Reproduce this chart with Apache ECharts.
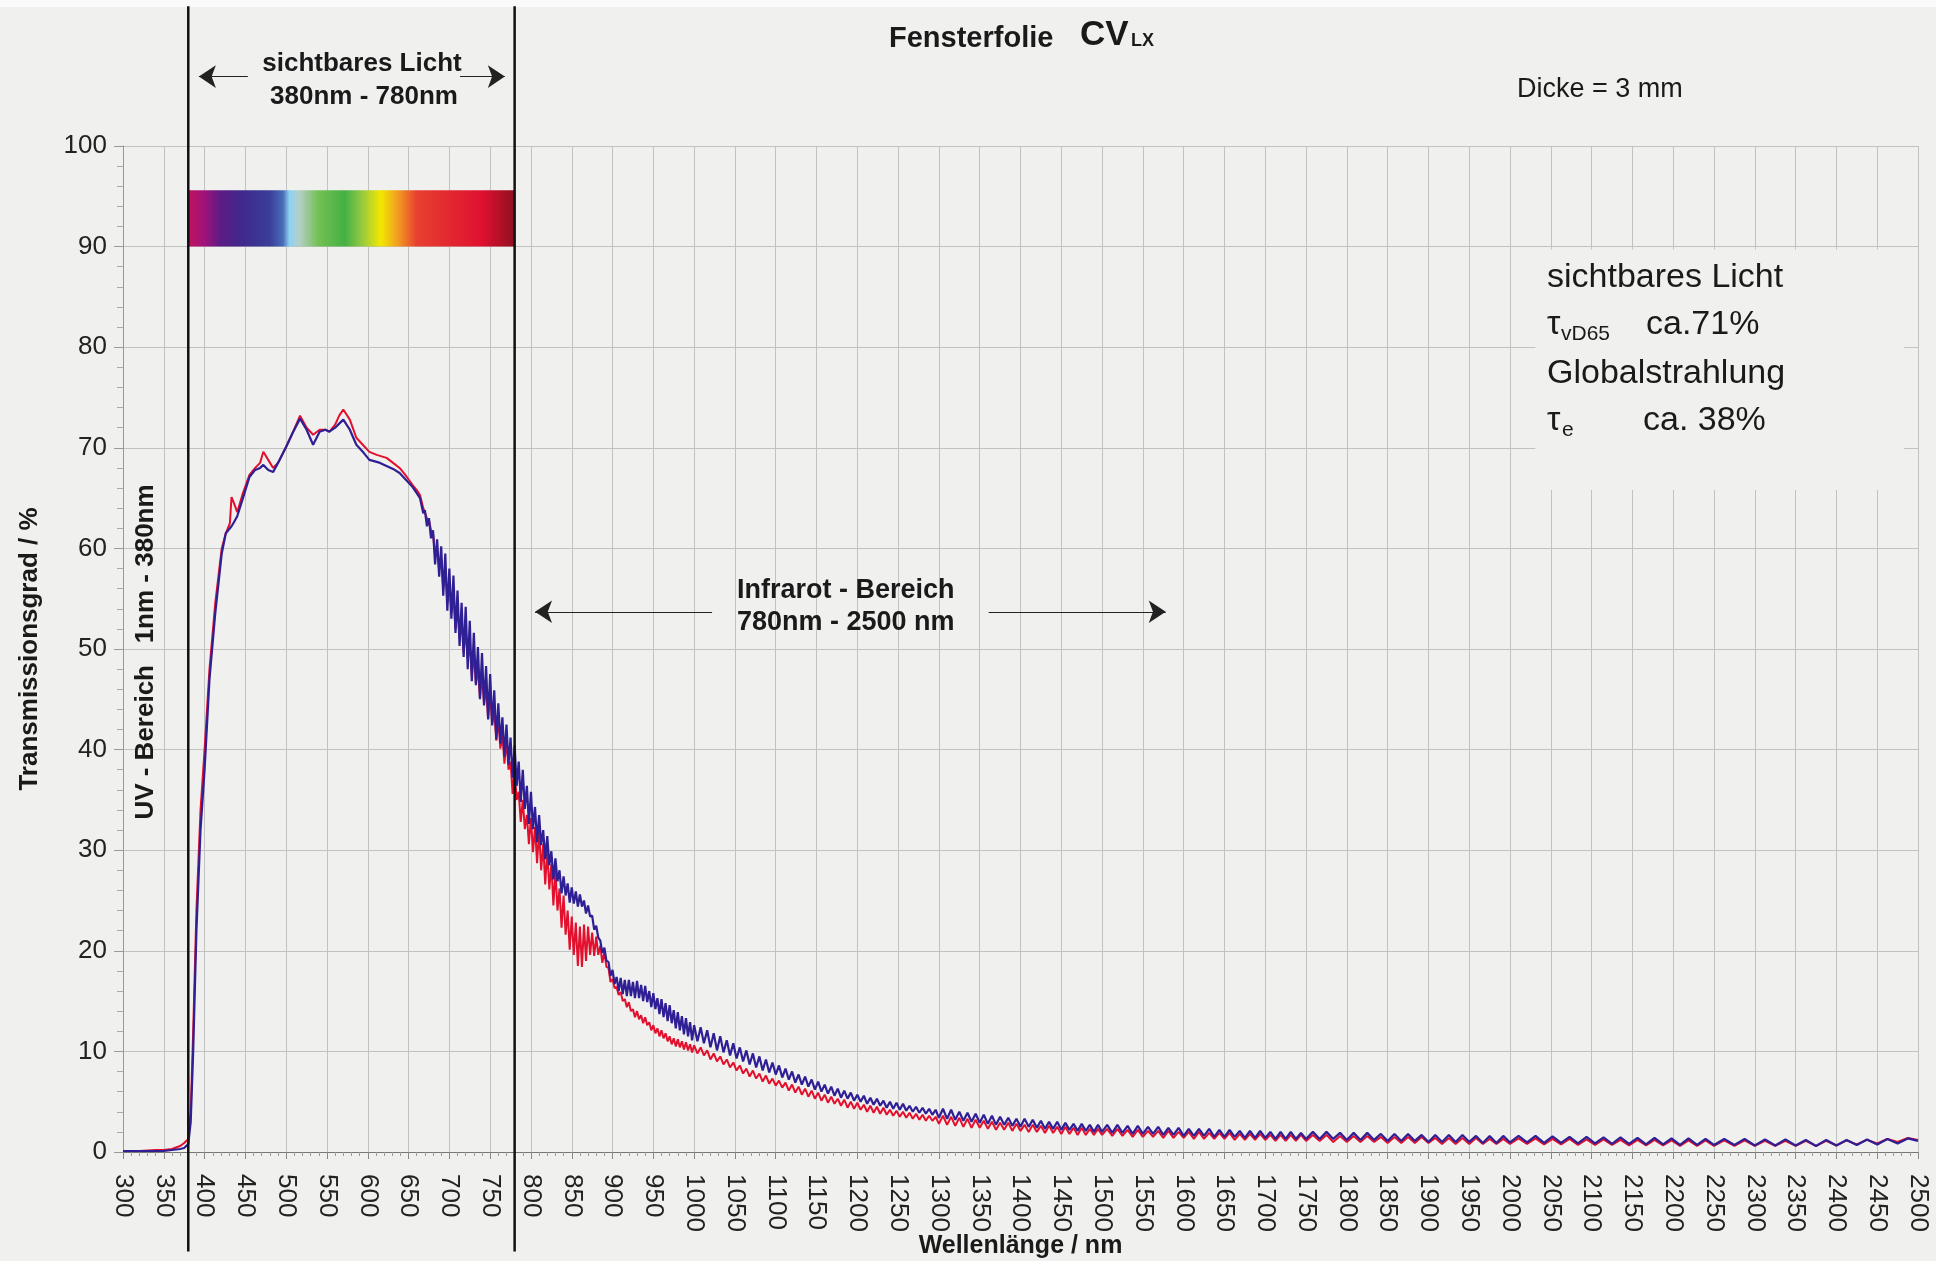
<!DOCTYPE html>
<html><head><meta charset="utf-8">
<script src="https://cdn.jsdelivr.net/npm/echarts@6/dist/echarts.min.js"></script>
<style>html,body{margin:0;padding:0;background:#f0f0ee}#c{width:1936px;height:1261px}</style>
</head><body><div id="c"></div>
<script>
// ---------- DATA ----------
// smooth part, 300-668 nm: wavelength / red curve / blue curve
const visWl   = [300,320,340,350,360,370,375,380,383,386,390,395,400,406,413,421,426,431,433,436,440,447,455,462,468,472,478,484,490,500,508,517,525,533,541,548,553,560,565,570,578,586,595,602,611,615,623,631,639,647,655,660,664,668];
const visRed  = [0.1,0.1,0.2,0.2,0.3,0.6,0.9,1.3,4,12,24,34,40,48,54.5,60,61.5,62.5,65.1,64.5,63.6,65.5,67.3,68,68.5,69.6,68.8,68,68.5,70.1,71.5,73.2,72,71.3,71.8,71.8,71.6,72.3,73.2,73.8,72.8,71,70.2,69.6,69.3,69.2,69,68.5,68,67.2,66.3,65.8,65.3,64];
const visBlue = [0.1,0.1,0.1,0.1,0.2,0.3,0.4,0.8,3,10,22,32,38,47,53.5,59.5,61.5,62,62.2,62.6,63.2,65,67.1,67.8,68,68.3,67.8,67.6,68.5,70.1,71.5,72.9,71.8,70.3,71.6,71.8,71.6,72,72.4,72.8,71.8,70.3,69.5,68.8,68.6,68.5,68.2,67.9,67.5,66.8,66.1,65.5,65,63.5];

// noisy band, sampled from 670 nm every 2.5 nm
const nir1Start = 670, nir1Step = 2.5;
const nir1Blue = [
 63.8,62.2,63.0,61.0,61.8,58.4,60.9,57.2,
 60.2,55.3,59.5,53.8,58.0,53.0,57.3,51.6,
 55.8,50.3,54.6,49.2,54.2,48.0,52.8,46.8,
 51.6,46.4,50.2,45.0,49.6,44.4,48.3,43.0,
 47.5,42.4,45.9,41.0,44.6,40.6,43.2,39.3,
 42.5,38.5,41.2,37.2,40.4,36.4,38.8,34.8,
 38.0,34.1,36.4,32.6,35.8,32.1,34.3,30.8,
 33.5,30.5,32.0,29.1,31.4,28.5,29.9,27.1,
 29.2,26.9,28.0,25.7,27.4,25.5,26.7,24.8,
 26.3,24.7,25.9,24.4,25.6,24.4,25.0,23.7,
 24.5,23.4,23.5,22.1,22.5,21.3,21.0,19.8,
 20.3,19.0,18.9,17.5,18.1,16.7,17.4,16.0,
 17.3,15.7,17.1,15.5,17.1,15.5,16.9,15.3,
 17.0,15.3,16.6,15.0,16.5,14.9,16.0,14.4,
 15.8,14.2,15.3,13.7,15.2,13.4,14.8,13.0,
 14.6,12.8,14.1,12.3,13.9,12.1,13.5,11.7,
 13.3,11.5,12.9,11.1];
const nir1Red = [
 64.0,63.0,62.8,61.8,61.5,59.4,60.0,57.8,
 59.0,56.0,57.8,54.6,56.5,53.6,55.2,52.0,
 54.0,51.0,52.6,49.6,52.0,49.0,50.4,47.3,
 49.5,46.6,48.0,45.1,47.5,44.6,46.0,43.1,
 45.5,42.6,43.8,40.9,43.0,40.1,41.5,38.6,
 41.0,38.0,38.8,35.6,38.0,35.0,35.8,32.8,
 35.0,32.1,33.5,30.6,33.2,29.8,32.3,28.7,
 32.0,28.0,30.6,26.6,30.0,26.1,28.6,24.5,
 28.0,24.0,26.2,22.3,25.5,21.6,24.0,20.1,
 23.4,19.6,22.8,18.5,22.4,18.4,22.6,19.0,
 22.4,19.6,21.8,19.5,21.4,19.6,20.5,18.8,
 19.9,18.4,18.3,16.9,17.2,16.3,16.4,15.6,
 15.9,15.0,15.2,14.4,14.9,14.0,14.2,13.4,
 14.0,13.2,13.6,12.8,13.4,12.6,12.9,12.1,
 12.6,11.8,12.3,11.5,12.1,11.3,11.8,11.0,
 11.5,10.7,11.3,10.5,11.2,10.4,11.0,10.2,
 10.9,10.1,10.7,9.9];

// fringes, sampled from 1000 nm every 4 nm
const nir2Start = 1000, nir2Step = 4;
const nir2Blue = [12.6,11.0,12.4,10.8,12.1,10.4,11.8,10.1,11.5,9.9,11.1,9.6,10.8,9.3,10.4,9.0,10.1,8.7,9.8,8.4,9.5,8.1,9.2,7.9,8.9,7.7,8.6,7.4,8.3,7.2,8.0,6.9,7.7,6.7,7.5,6.5,7.2,6.2,7.0,6.0,6.7,5.8,6.5,5.6,6.3,5.4,6.1,5.3,5.9,5.1,5.7,5.0,5.6,4.8,5.4,4.7,5.3,4.6,5.1,4.4,5.0,4.3,4.9,4.2,4.8,4.1,4.6,4.0,4.5,3.9,4.4,3.8,4.3,3.7,4.2];
const nir2Red  = [10.6,9.8,10.4,9.6,10.1,9.2,9.8,9.0,9.5,8.7,9.2,8.4,8.9,8.1,8.6,7.8,8.3,7.5,8.1,7.3,7.8,7.0,7.6,6.8,7.3,6.6,7.1,6.4,6.9,6.1,6.7,5.9,6.5,5.7,6.3,5.5,6.1,5.3,5.9,5.1,5.7,4.9,5.5,4.8,5.3,4.6,5.2,4.4,5.0,4.3,4.9,4.2,4.7,4.0,4.6,3.9,4.5,3.8,4.4,3.7,4.2,3.6,4.1,3.5,4.0,3.4,3.9,3.3,3.8,3.2,3.7,3.1,3.6,3.1,3.5];

// interference fringes further out
const f1Start = 1300, f1Step = 5;
const f1Blue = [3.4,4.3,3.3,4.2,3.2,4.0,3.1,3.9,3.0,3.8,2.9,3.7,2.8,3.6,2.7,3.5,2.7,3.4,2.6,3.3,2.5,3.3,2.5,3.2,2.4,3.1,2.3,3.0,2.3,3.0,2.2,2.9,2.2,2.8,2.1,2.8,2.1,2.7,2.0,2.7];
const f1Red  = [2.8,3.6,2.7,3.5,2.6,3.4,2.5,3.3,2.4,3.2,2.4,3.1,2.3,3.0,2.2,2.9,2.2,2.9,2.1,2.8,2.1,2.7,2.0,2.7,2.0,2.6,1.9,2.6,1.9,2.5,1.8,2.5,1.8,2.4,1.7,2.4,1.7,2.3,1.7,2.3];
const f2Start = 1500, f2Step = 6.25;
const f2Blue = [2.0,2.7,1.9,2.7,1.9,2.6,1.8,2.6,1.8,2.5,1.8,2.5,1.7,2.4,1.7,2.4,1.6,2.3,1.6,2.3,1.6,2.3,1.5,2.2,1.5,2.2,1.5,2.1,1.4,2.1,1.4,2.1,1.4,2.0,1.3,2.0,1.3,2.0,1.3,1.9];
const f2Red  = [1.7,2.3,1.6,2.3,1.6,2.2,1.5,2.2,1.5,2.1,1.5,2.1,1.4,2.1,1.4,2.0,1.4,2.0,1.3,2.0,1.3,1.9,1.3,1.9,1.3,1.9,1.2,1.8,1.2,1.8,1.2,1.8,1.2,1.7,1.1,1.7,1.1,1.7,1.1,1.7];
const f3Start = 1750, f3Step = 250 / 30;
const f3Blue = [1.3,2.0,1.3,2.0,1.3,1.9,1.2,1.9,1.2,1.9,1.2,1.8,1.1,1.8,1.1,1.8,1.1,1.7,1.0,1.7,1.0,1.7,1.0,1.7,1.0,1.6,0.9,1.6,0.9,1.6];
const f3Red  = [1.1,1.7,1.1,1.7,1.0,1.6,1.0,1.6,1.0,1.6,1.0,1.5,0.9,1.5,0.9,1.5,0.9,1.5,0.9,1.4,0.8,1.4,0.8,1.4,0.8,1.4,0.8,1.3,0.8,1.3];
const f4Start = 2000, f4Step = 250 / 24;
const f4Blue = [0.95,1.6,0.95,1.6,0.9,1.55,0.9,1.5,0.85,1.5,0.85,1.45,0.8,1.45,0.8,1.4,0.75,1.4,0.75,1.35,0.7,1.35,0.7,1.3];
const f4Red  = [0.8,1.35,0.8,1.35,0.75,1.3,0.75,1.3,0.7,1.25,0.7,1.25,0.7,1.2,0.65,1.2,0.65,1.2,0.65,1.15,0.6,1.15,0.6,1.15];
const f5Start = 2250, f5Step = 12.5;
const f5Blue = [0.7,1.3,0.7,1.3,0.65,1.25,0.65,1.25,0.65,1.2,0.6,1.2,0.65,1.2,0.7,1.25,0.75,1.3,0.85,1.35,1.1];
const f5Red  = [0.6,1.15,0.6,1.15,0.6,1.1,0.6,1.1,0.6,1.1,0.6,1.1,0.65,1.15,0.75,1.2,0.85,1.3,1.0,1.4,1.2];

// region boundaries (nm) and annotation anchors (data units)
const regionBounds = [380, 780];
const boundExtent = [-9.9, 113.9];
const visBand = [95.6, 90];
const visArrow = {y: 106.9, left: [453, 393], right: [713, 768]};
const irArrow  = {y: 53.7, left: [1022, 805], right: [1361, 1578]};
const boxCover = [[2031, 89.7], [2483, 65.8]];

// ---------- BUILD ----------
function pairs(xs, ys){ return xs.map((x, i) => [x, ys[i]]); }
function section(start, step, ys){ return ys.map((v, i) => [Math.round((start + i * step) * 1000) / 1000, v]); }
const redData = pairs(visWl, visRed).concat(
  section(nir1Start, nir1Step, nir1Red), section(nir2Start, nir2Step, nir2Red),
  section(f1Start, f1Step, f1Red), section(f2Start, f2Step, f2Red), section(f3Start, f3Step, f3Red),
  section(f4Start, f4Step, f4Red), section(f5Start, f5Step, f5Red));
const blueData = pairs(visWl, visBlue).concat(
  section(nir1Start, nir1Step, nir1Blue), section(nir2Start, nir2Step, nir2Blue),
  section(f1Start, f1Step, f1Blue), section(f2Start, f2Step, f2Blue), section(f3Start, f3Step, f3Blue),
  section(f4Start, f4Step, f4Blue), section(f5Start, f5Step, f5Blue));

const FONT = '"Liberation Sans", Arial, Helvetica, sans-serif';
const BG = '#f0f0ee';
const INK = '#1a1a1a';

function txt(x, y, text, size, weight, opt){
  opt = opt || {};
  return {type:'text', x:x, y:y, rotation: opt.rotation || 0, silent:true, z:10,
    style:{text:text, fontFamily:FONT, fontSize:size, fontWeight:weight || 'normal', fill:INK,
      align: opt.align || 'left', verticalAlign:'middle'}};
}

const spectrum = {type:'linear', x:0, y:0, x2:1, y2:0, colorStops:[
  {offset:0.00, color:'#c0125e'}, {offset:0.05, color:'#a0127a'}, {offset:0.10, color:'#5a1c84'},
  {offset:0.17, color:'#3e2a8c'}, {offset:0.25, color:'#3a3e9a'}, {offset:0.29, color:'#4a6cb8'},
  {offset:0.31, color:'#8cd2f2'}, {offset:0.34, color:'#b4cfc6'}, {offset:0.40, color:'#72c052'},
  {offset:0.48, color:'#44b044'}, {offset:0.53, color:'#92c842'}, {offset:0.59, color:'#f2e800'},
  {offset:0.64, color:'#f2a020'}, {offset:0.70, color:'#e84030'}, {offset:0.80, color:'#e22830'},
  {offset:0.90, color:'#e01030'}, {offset:1.00, color:'#901020'}]};

const arrowLine = (a, y) => [{coord:[a[0], y], symbol:'none'}, {coord:[a[1], y], symbol:'arrow'}];

const chart = echarts.init(document.getElementById('c'), null, {renderer:'canvas'});
chart.setOption({
  backgroundColor: BG,
  animation: false,
  grid: [
    {left:123, right:18, top:146, bottom:109, containLabel:false, outerBoundsMode:'none'},
    {left:123, right:18, top:0, bottom:0, containLabel:false, outerBoundsMode:'none'}
  ],
  xAxis: [
    {type:'value', gridIndex:0, min:300, max:2500, interval:50,
     name:'Wellenlänge / nm', nameLocation:'middle', nameGap:82, nameMoveOverlap:false,
     nameTextStyle:{fontFamily:FONT, fontWeight:'bold', fontSize:25, color:INK},
     axisLine:{show:true, onZero:false, lineStyle:{color:'#777', width:1}},
     axisTick:{show:true, length:7, lineStyle:{color:'#888'}},
     minorTick:{show:true, splitNumber:5, length:4, lineStyle:{color:'#999'}},
     minorSplitLine:{show:false},
     axisLabel:{rotate:-90, margin:22, fontFamily:FONT, fontSize:26, color:'#222', hideOverlap:false,
       formatter: v => String(v)},
     splitLine:{show:true, lineStyle:{color:'#c2c2c2', width:1}}},
    {type:'value', gridIndex:1, min:300, max:2500, show:false}
  ],
  yAxis: [
    {type:'value', gridIndex:0, min:0, max:100, interval:10,
     name:'Transmissionsgrad / %', nameLocation:'middle', nameGap:80, nameRotate:90, nameMoveOverlap:false,
     nameTextStyle:{fontFamily:FONT, fontWeight:'bold', fontSize:26, color:INK},
     axisLine:{show:true, lineStyle:{color:'#999', width:1}},
     axisTick:{show:true, length:9, lineStyle:{color:'#999'}},
     minorTick:{show:true, splitNumber:5, length:6, lineStyle:{color:'#aaa'}},
     axisLabel:{margin:16, fontFamily:FONT, fontSize:26, color:'#222', formatter: v => String(v)},
     splitLine:{show:true, lineStyle:{color:'#c2c2c2', width:1}}},
    {type:'value', gridIndex:1, min:-10.835, max:114.513, show:false}
  ],
  series: [
    {type:'line', name:'rot', xAxisIndex:0, yAxisIndex:0, data:redData, showSymbol:false, symbol:'none',
     lineStyle:{color:'#e3102d', width:2}, z:2, silent:true,
     markArea:{silent:true, label:{show:false},
       data:[
         [{coord:[regionBounds[0], visBand[0]], itemStyle:{color:spectrum, opacity:1}}, {coord:[regionBounds[1], visBand[1]]}],
         [{coord:boxCover[0], itemStyle:{color:BG, opacity:1}}, {coord:boxCover[1]}]
       ]}},
    {type:'line', name:'blau', xAxisIndex:0, yAxisIndex:0, data:blueData, showSymbol:false, symbol:'none',
     lineStyle:{color:'#2e1f94', width:2.2}, z:3, silent:true},
    {type:'line', xAxisIndex:1, yAxisIndex:1, silent:true, z:5, showSymbol:false, symbol:'none',
     data:[[regionBounds[0], boundExtent[0]], [regionBounds[0], boundExtent[1]]],
     lineStyle:{color:'#111', width:2.5},
     markLine:{silent:true, symbolSize:17, label:{show:false},
       lineStyle:{color:'#222', width:1, type:'solid'},
       data:[arrowLine(visArrow.left, visArrow.y), arrowLine(visArrow.right, visArrow.y),
             arrowLine(irArrow.left, irArrow.y), arrowLine(irArrow.right, irArrow.y)]}},
    {type:'line', xAxisIndex:1, yAxisIndex:1, silent:true, z:5, showSymbol:false, symbol:'none',
     data:[[regionBounds[1], boundExtent[0]], [regionBounds[1], boundExtent[1]]],
     lineStyle:{color:'#111', width:2.5}}
  ],
  graphic:{elements:[
    {type:'rect', shape:{x:0, y:0, width:1936, height:7}, style:{fill:'#fafafa'}, silent:true, z:-1},
    txt(889, 39, 'Fensterfolie', 29, 'bold'),
    txt(1080, 35, 'CV', 35, 'bold'),
    txt(1131, 41, 'LX', 18, 'bold'),
    txt(1517, 90, 'Dicke = 3 mm', 27, 'normal'),
    txt(362, 64, 'sichtbares Licht', 26, 'bold', {align:'center'}),
    txt(364, 97, '380nm - 780nm', 26, 'bold', {align:'center'}),
    txt(737, 591, 'Infrarot - Bereich', 27, 'bold'),
    txt(737, 623, '780nm - 2500 nm', 27, 'bold'),
    txt(146, 652, 'UV - Bereich   1nm - 380nm', 26, 'bold', {align:'center', rotation:Math.PI/2}),
    txt(1547, 277.6, 'sichtbares Licht', 34, 'normal'),
    txt(1547, 324.6, 'τ', 34, 'normal'),
    txt(1561, 334.7, 'vD65', 21, 'normal'),
    txt(1646, 324.6, 'ca.71%', 34, 'normal'),
    txt(1547, 373.6, 'Globalstrahlung', 34, 'normal'),
    txt(1547, 420.6, 'τ', 34, 'normal'),
    txt(1562, 430.7, 'e', 21, 'normal'),
    txt(1643, 420.6, 'ca. 38%', 34, 'normal')
  ]}
});
</script>
</body></html>
